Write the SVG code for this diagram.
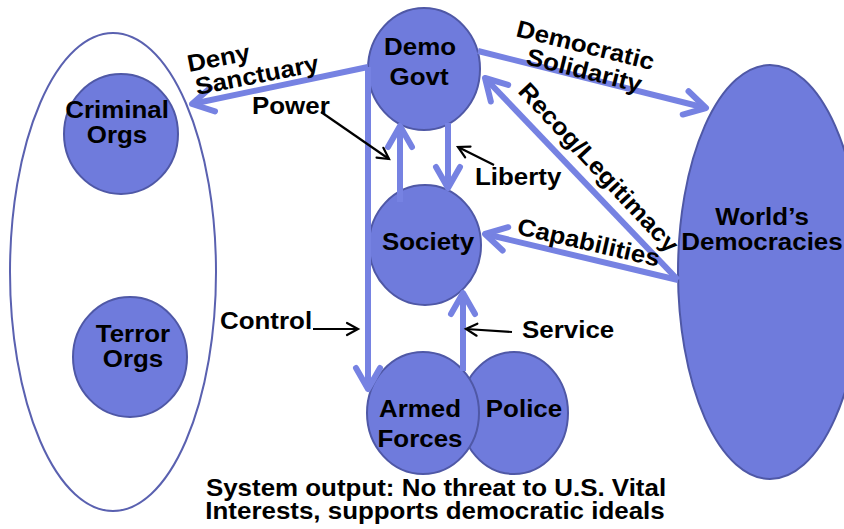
<svg xmlns="http://www.w3.org/2000/svg" width="844" height="529" viewBox="0 0 844 529">
  <style>
    .node { fill: #6f7bdc; stroke: #4f58a6; stroke-width: 2; }
    .group { fill: none; stroke: #5a61b0; stroke-width: 2; }
    .lbl { font-family: "Liberation Sans", Arial, sans-serif; font-weight: bold; font-size: 24px; fill: #000; }
    .mid { text-anchor: middle; }
    .flow { fill: none; stroke: #7682e2; stroke-width: 6; stroke-linecap: butt; }
    .ptr { fill: none; stroke: #000; stroke-width: 2.2; }
  </style>
  <defs>
    <marker id="chev" viewBox="-30 -20 40 40" refX="0" refY="0" markerWidth="40" markerHeight="40" markerUnits="userSpaceOnUse" orient="auto">
      <path d="M-21,-12 L0,0 L-21,12" fill="none" stroke="#7682e2" stroke-width="6" stroke-linecap="round" stroke-linejoin="round"/>
    </marker>
    <marker id="tick" viewBox="-20 -10 30 20" refX="0" refY="0" markerWidth="30" markerHeight="20" markerUnits="userSpaceOnUse" orient="auto">
      <path d="M-11,-6 L0,0 L-11,6" fill="none" stroke="#000" stroke-width="2.2" stroke-linecap="round" stroke-linejoin="miter"/>
    </marker>
  </defs>

  <!-- hostile actors enclosure -->
  <g id="threats">
    <ellipse class="group" cx="113" cy="272" rx="103" ry="239"/>
  </g>
  <g id="criminal-orgs">
    <ellipse class="node" cx="121" cy="134" rx="57" ry="60"/>
    <text class="lbl mid" transform="translate(117 118) scale(1.08 1)">Criminal</text>
    <text class="lbl mid" transform="translate(117 143) scale(1.08 1)">Orgs</text>
  </g>
  <g id="terror-orgs">
    <ellipse class="node" cx="130" cy="357" rx="57" ry="60"/>
    <text class="lbl mid" transform="translate(133 342) scale(1.08 1)">Terror</text>
    <text class="lbl mid" transform="translate(133 367) scale(1.08 1)">Orgs</text>
  </g>

  <g id="demo-govt">
    <ellipse class="node" cx="424" cy="69" rx="56" ry="61"/>
    <text class="lbl mid" transform="translate(420 55) scale(1.08 1)">Demo</text>
    <text class="lbl mid" transform="translate(419 85) scale(1.08 1)">Govt</text>
  </g>
  <g id="society">
    <ellipse class="node" cx="425" cy="245" rx="56" ry="60"/>
    <text class="lbl mid" transform="translate(428 250) scale(1.08 1)">Society</text>
  </g>
  <g id="police">
    <ellipse class="node" cx="514" cy="413" rx="54" ry="61"/>
    <text class="lbl mid" transform="translate(524 417) scale(1.08 1)">Police</text>
  </g>
  <g id="armed-forces">
    <ellipse class="node" cx="423" cy="413" rx="56" ry="61"/>
    <text class="lbl mid" transform="translate(420 417) scale(1.08 1)">Armed</text>
    <text class="lbl mid" transform="translate(420 447) scale(1.08 1)">Forces</text>
  </g>
  <g id="world-democracies">
    <ellipse class="node" cx="770" cy="272" rx="92" ry="207"/>
    <text class="lbl mid" transform="translate(762 225) scale(1.08 1)">World’s</text>
    <text class="lbl mid" transform="translate(762 250) scale(1.08 1)">Democracies</text>
  </g>

  <!-- flows between actors -->
  <g id="connectors">
    <path class="flow" d="M368,67 L192,104" marker-end="url(#chev)"/>
    <path class="flow" d="M478,51 L706,108" marker-end="url(#chev)"/>
    <path class="flow" d="M678,280 L485,78" marker-end="url(#chev)"/>
    <path class="flow" d="M678,280 L485,234" marker-end="url(#chev)"/>
    <path class="flow" d="M400,202 L400,126" marker-end="url(#chev)"/>
    <path class="flow" d="M448,123 L448,188" marker-end="url(#chev)"/>
    <path class="flow" d="M368,67 L368,389" marker-end="url(#chev)"/>
    <path class="flow" d="M463,371 L463,293" marker-end="url(#chev)"/>

    <path class="ptr" d="M321,112 L389,159" marker-end="url(#tick)"/>
    <path class="ptr" d="M494,165 L458,147" marker-end="url(#tick)"/>
    <path class="ptr" d="M313,329 L358,329" marker-end="url(#tick)"/>
    <path class="ptr" d="M512,332 L466,329" marker-end="url(#tick)"/>
  </g>

  <!-- flow labels -->
  <g id="labels">
    <text class="lbl" transform="translate(189 72) rotate(-11) scale(1.08 1)">Deny</text>
    <text class="lbl" transform="translate(197 95) rotate(-11) scale(1.08 1)">Sanctuary</text>
    <text class="lbl" transform="translate(515 36) rotate(14) scale(1.08 1)">Democratic</text>
    <text class="lbl" transform="translate(525 64) rotate(14) scale(1.08 1)">Solidarity</text>
    <text class="lbl" transform="translate(517 92) rotate(47) scale(1.08 1)">Recog/Legitimacy</text>
    <text class="lbl" transform="translate(516 234) rotate(13) scale(1.08 1)">Capabilities</text>
    <text class="lbl" transform="translate(252 114) scale(1.08 1)">Power</text>
    <text class="lbl" transform="translate(475 185) scale(1.08 1)">Liberty</text>
    <text class="lbl" transform="translate(220 329) scale(1.08 1)">Control</text>
    <text class="lbl" transform="translate(522 338) scale(1.08 1)">Service</text>
  </g>

  <g id="output">
    <text class="lbl mid" transform="translate(436 496) scale(1.08 1)">System output: No threat to U.S. Vital</text>
    <text class="lbl mid" transform="translate(435 519) scale(1.08 1)">Interests, supports democratic ideals</text>
  </g>
</svg>
